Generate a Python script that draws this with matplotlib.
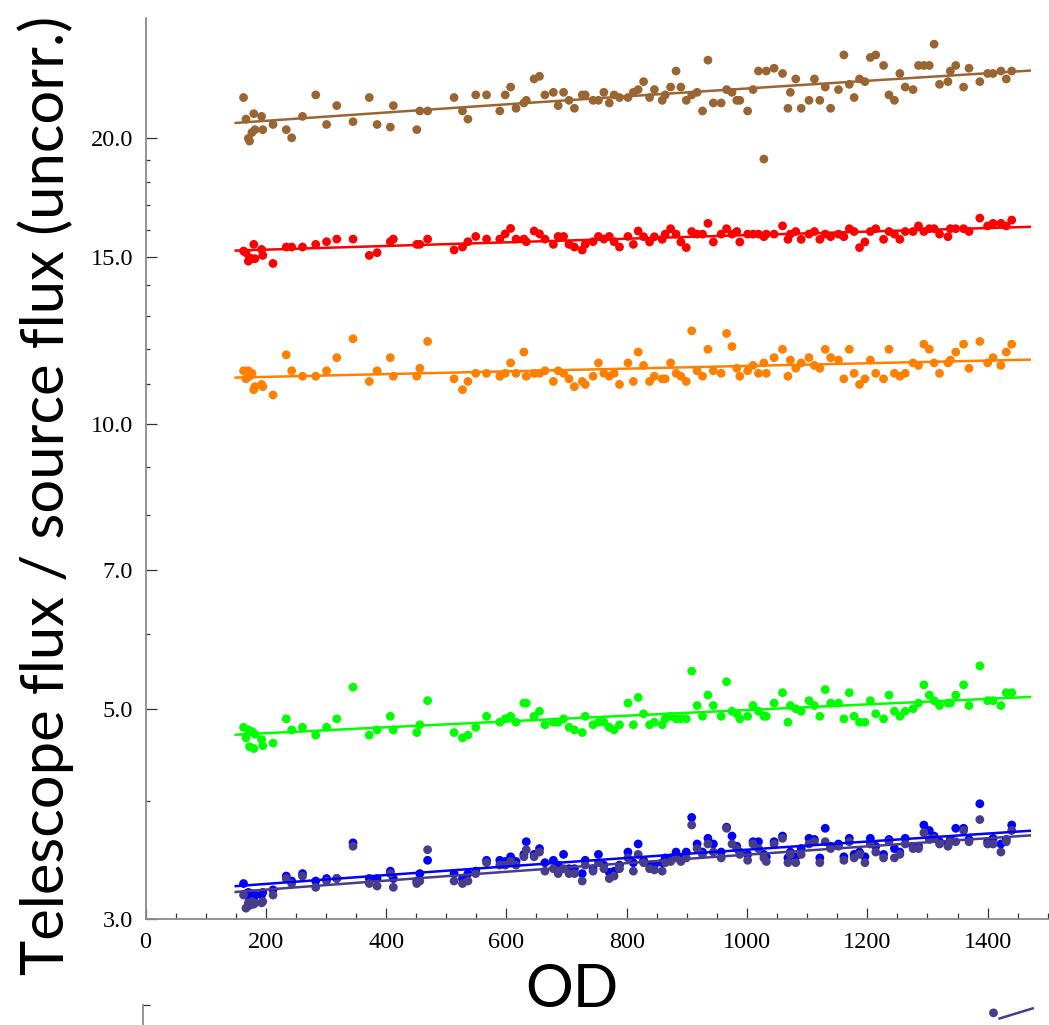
import numpy as np
import matplotlib.pyplot as plt
from matplotlib.ticker import FixedLocator

# OD values shared by all bands
od = [163, 167, 171, 173, 177, 180, 182, 193, 195,
      212, 234, 243, 261, 283, 301, 318, 345, 372, 385,
      407, 412, 451, 456, 469, 513, 527, 536, 549, 567,
      589, 598, 607, 616, 629, 633, 646, 655, 664, 678,
      686, 695, 704, 713, 726, 731, 744, 753, 762, 771,
      779, 788, 802, 811, 819, 828, 838, 846, 859, 864,
      873, 882, 890, 899, 908, 917, 926, 935, 944, 957,
      966, 975, 983, 988, 1001, 1010, 1019, 1028, 1032, 1045,
      1059, 1068, 1072, 1081, 1090, 1103, 1112, 1121, 1130, 1139,
      1152, 1161, 1170, 1178, 1187, 1196, 1205, 1214, 1227, 1236,
      1245, 1254, 1263, 1276, 1285, 1294, 1303, 1311, 1320, 1334,
      1338, 1347, 1360, 1369, 1387, 1400, 1409, 1422, 1431, 1440]

brown = [22.09, 20.96, 20.00, 19.87, 20.29, 21.24, 20.43, 21.10, 20.43,
         20.69, 20.43, 20.03, 21.10, 22.23, 20.69, 21.66, 20.83, 22.09, 20.69,
         20.56, 21.66, 20.43, 21.38, 21.38, 22.09, 21.38, 20.96, 22.23, 22.23,
         21.38, 22.23, 22.66, 21.52, 21.80, 21.94, 23.11, 23.26, 22.23, 22.37,
         21.66, 22.37, 21.94, 21.52, 22.23, 22.23, 21.94, 21.94, 22.37, 21.80,
         22.23, 22.09, 22.09, 22.37, 22.52, 22.96, 22.09, 22.52, 21.94, 22.23,
         22.66, 23.56, 22.66, 21.94, 22.23, 22.37, 21.38, 24.19, 21.80, 21.80,
         22.52, 22.37, 21.94, 21.94, 21.38, 22.52, 23.56, 19.02, 23.56, 23.72,
         23.42, 21.52, 22.37, 23.11, 21.52, 21.94, 23.11, 21.94, 22.66, 21.52,
         22.52, 24.50, 22.81, 22.09, 23.11, 22.96, 24.35, 24.50, 23.88, 22.23,
         21.94, 23.42, 22.66, 22.52, 23.88, 23.88, 23.88, 25.15, 22.81, 22.96,
         23.56, 23.88, 22.66, 23.72, 22.96, 23.42, 23.42, 23.56, 23.11, 23.56]

red = [15.21, 15.15, 14.84, 14.96, 14.93, 15.46, 14.93, 15.27, 15.05,
       14.76, 15.36, 15.36, 15.36, 15.46, 15.56, 15.66, 15.66, 15.05, 15.15,
       15.56, 15.66, 15.46, 15.46, 15.66, 15.25, 15.36, 15.56, 15.76, 15.66,
       15.66, 15.86, 16.07, 15.66, 15.66, 15.56, 15.97, 15.86, 15.66, 15.46,
       15.76, 15.76, 15.46, 15.36, 15.25, 15.46, 15.56, 15.76, 15.66, 15.76,
       15.56, 15.36, 15.76, 15.46, 15.97, 15.75, 15.55, 15.75, 15.65, 15.85,
       16.06, 15.85, 15.55, 15.34, 15.95, 15.85, 15.85, 16.27, 15.55, 15.85,
       16.06, 15.85, 15.95, 15.55, 15.85, 15.85, 15.85, 15.75, 15.85, 15.85,
       16.17, 15.65, 15.85, 15.95, 15.65, 15.85, 15.95, 15.65, 15.85, 15.75,
       15.85, 15.75, 16.06, 15.95, 15.34, 15.55, 15.95, 16.06, 15.65, 15.95,
       15.85, 15.65, 15.95, 15.95, 16.17, 15.95, 16.06, 16.06, 15.85, 15.75,
       16.06, 16.06, 16.06, 15.95, 16.48, 16.17, 16.27, 16.27, 16.17, 16.40]

orange = [11.37, 11.15, 11.37, 11.22, 11.30, 10.86, 10.94, 11.00, 10.94,
          10.72, 11.82, 11.37, 11.22, 11.22, 11.37, 11.74, 12.29, 11.08, 11.37,
          11.74, 11.22, 11.22, 11.44, 12.21, 11.15, 10.86, 11.08, 11.30, 11.30,
          11.22, 11.30, 11.59, 11.30, 11.90, 11.22, 11.30, 11.30, 11.37, 11.08,
          11.37, 11.30, 11.15, 10.94, 11.08, 11.00, 11.22, 11.59, 11.30, 11.22,
          11.30, 11.00, 11.59, 11.08, 11.90, 11.52, 11.08, 11.22, 11.15, 11.15,
          11.59, 11.30, 11.22, 11.08, 12.53, 11.37, 11.22, 11.98, 11.37, 11.30,
          12.45, 12.06, 11.44, 11.22, 11.37, 11.52, 11.30, 11.59, 11.30, 11.74,
          11.98, 11.22, 11.67, 11.44, 11.59, 11.74, 11.52, 11.44, 11.98, 11.74,
          11.67, 11.15, 11.98, 11.30, 11.00, 11.15, 11.67, 11.30, 11.15, 11.98,
          11.30, 11.22, 11.30, 11.59, 11.52, 12.13, 11.98, 11.59, 11.30, 11.59,
          11.67, 11.90, 12.13, 11.44, 12.21, 11.59, 11.74, 11.52, 11.90, 12.13]

green = [4.78, 4.66, 4.75, 4.56, 4.73, 4.54, 4.70, 4.64, 4.57,
         4.60, 4.88, 4.75, 4.78, 4.69, 4.78, 4.88, 5.27, 4.69, 4.75,
         4.91, 4.75, 4.72, 4.81, 5.10, 4.72, 4.66, 4.69, 4.78, 4.91,
         4.84, 4.88, 4.91, 4.84, 5.07, 5.07, 4.91, 4.97, 4.81, 4.84,
         4.84, 4.88, 4.78, 4.75, 4.72, 4.91, 4.81, 4.84, 4.84, 4.78,
         4.75, 4.81, 5.07, 4.81, 5.14, 4.94, 4.81, 4.84, 4.81, 4.88,
         4.91, 4.88, 4.88, 4.88, 5.48, 5.04, 4.91, 5.17, 5.04, 4.91,
         5.34, 4.97, 4.94, 4.88, 4.91, 5.04, 4.97, 4.91, 4.91, 5.07,
         5.20, 4.84, 5.04, 5.00, 4.97, 5.10, 5.04, 4.91, 5.24, 5.07,
         5.07, 4.88, 5.20, 4.91, 4.84, 4.84, 5.10, 4.94, 4.88, 5.17,
         4.97, 4.91, 4.97, 5.00, 5.07, 5.30, 5.17, 5.10, 5.04, 5.07,
         5.07, 5.17, 5.30, 5.04, 5.55, 5.10, 5.10, 5.04, 5.20, 5.20]

blue = [3.27, 3.19, 3.20, 3.15, 3.19, 3.16, 3.18, 3.18, 3.20,
        3.22, 3.33, 3.29, 3.35, 3.29, 3.31, 3.31, 3.61, 3.31, 3.31,
        3.37, 3.31, 3.29, 3.35, 3.46, 3.35, 3.31, 3.35, 3.37, 3.46,
        3.46, 3.45, 3.49, 3.45, 3.51, 3.62, 3.51, 3.56, 3.44, 3.46,
        3.42, 3.51, 3.39, 3.39, 3.35, 3.46, 3.39, 3.51, 3.42, 3.36,
        3.37, 3.42, 3.53, 3.44, 3.60, 3.46, 3.42, 3.42, 3.44, 3.48,
        3.48, 3.53, 3.48, 3.53, 3.84, 3.60, 3.53, 3.65, 3.60, 3.53,
        3.75, 3.67, 3.58, 3.53, 3.51, 3.62, 3.62, 3.51, 3.49, 3.62,
        3.67, 3.48, 3.53, 3.49, 3.56, 3.65, 3.64, 3.48, 3.74, 3.58,
        3.60, 3.49, 3.65, 3.51, 3.53, 3.49, 3.65, 3.58, 3.51, 3.64,
        3.56, 3.53, 3.65, 3.58, 3.58, 3.77, 3.72, 3.67, 3.62, 3.60,
        3.64, 3.74, 3.74, 3.64, 3.97, 3.62, 3.65, 3.60, 3.64, 3.77]

slate = [3.18, 3.08, 3.12, 3.10, 3.13, 3.11, 3.12, 3.12, 3.13,
         3.18, 3.31, 3.27, 3.33, 3.24, 3.29, 3.31, 3.58, 3.27, 3.25,
         3.35, 3.24, 3.27, 3.29, 3.55, 3.29, 3.27, 3.29, 3.35, 3.44,
         3.42, 3.42, 3.45, 3.42, 3.49, 3.55, 3.49, 3.53, 3.37, 3.39,
         3.35, 3.39, 3.35, 3.35, 3.29, 3.42, 3.37, 3.44, 3.39, 3.31,
         3.33, 3.39, 3.48, 3.37, 3.51, 3.44, 3.39, 3.38, 3.37, 3.44,
         3.45, 3.48, 3.45, 3.48, 3.77, 3.56, 3.51, 3.60, 3.53, 3.48,
         3.74, 3.60, 3.56, 3.51, 3.46, 3.60, 3.56, 3.48, 3.45, 3.60,
         3.65, 3.44, 3.51, 3.44, 3.51, 3.60, 3.62, 3.44, 3.62, 3.56,
         3.58, 3.46, 3.62, 3.48, 3.51, 3.44, 3.60, 3.53, 3.48, 3.62,
         3.48, 3.51, 3.60, 3.56, 3.56, 3.70, 3.64, 3.65, 3.60, 3.58,
         3.62, 3.62, 3.72, 3.62, 3.82, 3.60, 3.60, 3.53, 3.62, 3.72]

colors = ["#996633", "#ff0000", "#ff8000", "#00ff00", "#0000ff", "#483d8b"]

y_major = [3.0, 5.0, 7.0, 10.0, 15.0, 20.0]
y_labels = ["3.0", "5.0", "7.0", "10.0", "15.0", "20.0"]
y_minor = [4, 6, 8, 9, 11, 12, 13, 14, 16, 17, 18, 19]
x_major = [0, 200, 400, 600, 800, 1000, 1200, 1400]
x_minor = [v for v in range(50, 1501, 50) if v % 200 != 0]

# fragment of the next panel, cut off at the bottom edge
next_od = [1410]
next_val = [0.965]
next_fit_od = [1420, 1475]
next_fit_val = [0.94, 0.985]

W, H = 1049, 1025
fig = plt.figure(figsize=(W / 100, H / 100), dpi=100)
ax = fig.add_axes([145.5 / W, 106 / H, (W - 145.5) / W, 901 / H])

od_arr = np.array(od, dtype=float)
fit_x = np.linspace(150, 1470, 60)
for vals, c in zip([brown, red, orange, green, blue, slate], colors):
    ax.scatter(od_arr, vals, s=40, color=c, edgecolors="none", zorder=3)
    k, b = np.polyfit(od_arr, vals, 1)
    ax.plot(fit_x, k * fit_x + b, color=c, lw=1.8, zorder=4)

ax.set_yscale("log")
ax.set_ylim(3.0, 26.8)
ax.set_xlim(0, 1502)

ax.yaxis.set_major_locator(FixedLocator(y_major))
ax.yaxis.set_minor_locator(FixedLocator(y_minor))
ax.set_yticklabels(y_labels)
ax.yaxis.set_minor_formatter(plt.NullFormatter())
ax.xaxis.set_major_locator(FixedLocator(x_major))
ax.xaxis.set_minor_locator(FixedLocator(x_minor))
ax.set_xticklabels([str(v) for v in x_major])

for s in ["top", "right"]:
    ax.spines[s].set_visible(False)
for s in ["left", "bottom"]:
    ax.spines[s].set_color("#8a8a8a")
    ax.spines[s].set_linewidth(1.3)

ax.tick_params(axis="both", which="both", direction="in", color="#333333",
               width=0.9, labelsize=17.5, labelfontfamily="Liberation Serif")
ax.tick_params(axis="y", which="major", length=8, pad=9)
ax.tick_params(axis="y", which="minor", length=3)
ax.tick_params(axis="x", which="major", length=8, pad=9)
ax.tick_params(axis="x", which="minor", length=4.5)

fig.text(46 / W, 1 - 495 / H, "Telescope flux / source flux (uncorr.)",
         rotation=90, ha="center", va="center", fontsize=43, family="Lato",
         fontweight=400)
fig.text(572 / W, 1 - 990 / H, "OD", ha="center", va="center",
         fontsize=43, family="Lato", fontweight=400)

# next panel peeking in at the bottom
ax2 = fig.add_axes([143 / W, -0.2, (W - 143) / W, 0.2 + 20 / H])
ax2.set_xlim(0, 1502)
ax2.set_ylim(0, 1)
ax2.scatter(next_od, next_val, s=40, color=colors[5], edgecolors="none")
ax2.plot(next_fit_od, next_fit_val, color=colors[5], lw=1.8)
for s in ["top", "right", "bottom"]:
    ax2.spines[s].set_visible(False)
ax2.spines["left"].set_color("#8a8a8a")
ax2.spines["left"].set_linewidth(1.3)
ax2.set_xticks([])
ax2.set_yticks([1.0])
ax2.set_yticklabels([""])
ax2.tick_params(axis="y", direction="in", length=5, color="#333333", width=0.9)

fig.savefig("out.png", dpi=100)
